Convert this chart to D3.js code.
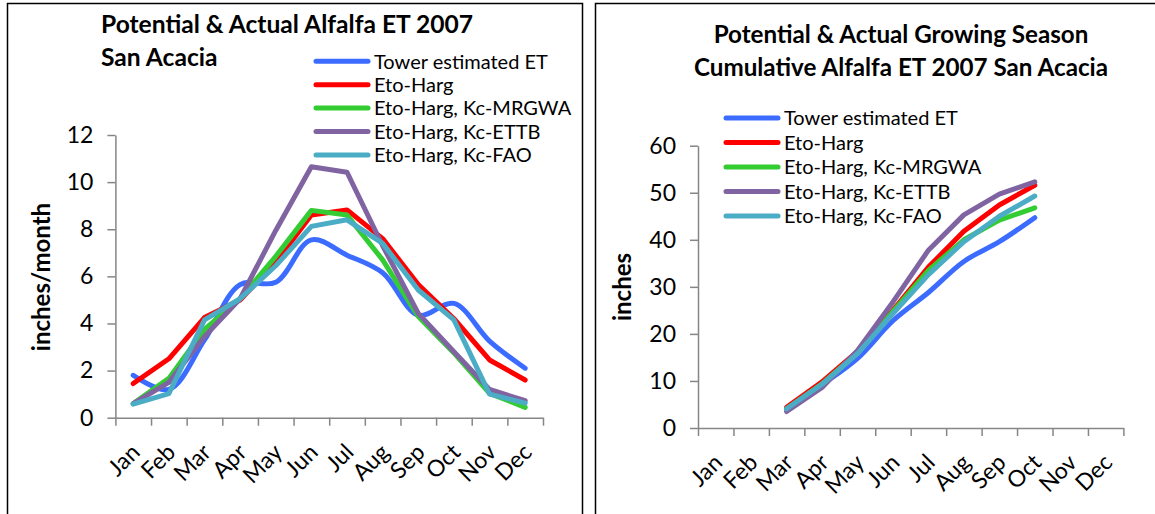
<!DOCTYPE html>
<html><head><meta charset="utf-8">
<script src="https://cdn.jsdelivr.net/npm/d3@7"></script>
<style>
body{margin:0;background:#fff;}
svg{display:block;}
text{font-family:Lato,"Open Sans",sans-serif;fill:#000;}
</style>
</head><body>
<svg id="c" width="1155" height="514"></svg>
<script>
// ---------- data ----------
const months = ["Jan","Feb","Mar","Apr","May","Jun","Jul","Aug","Sep","Oct","Nov","Dec"];
const seriesNames = ["Tower estimated ET","Eto-Harg","Eto-Harg, Kc-MRGWA","Eto-Harg, Kc-ETTB","Eto-Harg, Kc-FAO"];
const seriesColors = ["#3b6cff","#ff0000","#33cc33","#8064a2","#4bacc6"];

// monthly ET (inches/month), Jan..Dec
const monthlyTower = [1.8, 1.2, 3.3, 5.65, 5.75, 7.55, 6.9, 6.15, 4.35, 4.85, 3.25, 2.1];
const monthlyHarg  = [1.45, 2.5, 4.25, 5.0, 6.6, 8.6, 8.82, 7.6, 5.65, 4.2, 2.45, 1.6];
const monthlyMRGWA = [0.6, 1.67, 3.75, 5.05, 6.85, 8.8, 8.6, 6.7, 4.3, 2.75, 1.03, 0.44];
const monthlyETTB  = [0.6, 1.5, 3.45, 5.05, 7.95, 10.65, 10.42, 7.3, 4.43, 2.8, 1.2, 0.72];
const monthlyFAO   = [0.58, 1.02, 4.15, 5.05, 6.45, 8.12, 8.4, 7.4, 5.42, 4.15, 1.0, 0.62];

// cumulative growing season ET (inches), Mar..Oct
const cumMonths = ["Mar","Apr","May","Jun","Jul","Aug","Sep","Oct"];
const cumTower = [4.0, 9.2, 14.8, 22.8, 28.8, 35.4, 39.6, 44.7];
const cumHarg  = [4.4, 9.8, 16.3, 25.0, 34.2, 41.8, 47.4, 51.6];
const cumMRGWA = [4.1, 9.4, 16.0, 24.8, 33.5, 40.0, 44.2, 46.8];
const cumETTB  = [3.5, 8.6, 16.5, 26.8, 37.8, 45.3, 49.7, 52.3];
const cumFAO   = [4.1, 9.3, 15.8, 24.3, 32.6, 39.6, 45.0, 49.3];

const leftTicks = [0,2,4,6,8,10,12];
const rightTicks = [0,10,20,30,40,50,60];

// ---------- drawing ----------
const svg = d3.select("#c");
const AX = "#868686";

// panel frames
svg.append("rect").attr("x",7.5).attr("y",3.5).attr("width",575).attr("height",530)
  .attr("fill","none").attr("stroke","#000").attr("stroke-width",1.5);
svg.append("rect").attr("x",595.5).attr("y",3.5).attr("width",575).attr("height",530)
  .attr("fill","none").attr("stroke","#000").attr("stroke-width",1.5);

function drawChart(cfg){
  const g = svg.append("g");
  const x = d3.scaleBand().domain(months).range([cfg.x0, cfg.x1]);
  const xi = d3.scaleLinear().domain([0, months.length]).range([cfg.x0, cfg.x1]);
  const y = d3.scaleLinear().domain([cfg.ticks[0], cfg.ticks[cfg.ticks.length-1]]).range([cfg.y0, cfg.y1]);

  // y axis
  const ya = g.append("g").attr("transform",`translate(${cfg.x0},0)`)
    .call(d3.axisLeft(y).tickValues(cfg.ticks).tickSize(8).tickPadding(14).tickSizeOuter(0));
  ya.select(".domain").attr("stroke",AX).attr("stroke-width",1.5);
  ya.selectAll(".tick line").attr("stroke",AX).attr("stroke-width",1.5);
  ya.selectAll(".tick text").attr("font-family","Lato").attr("font-size",23).attr("fill","#000");

  // x axis (tick marks between categories)
  const xa = g.append("g").attr("transform",`translate(0,${cfg.y0})`)
    .call(d3.axisBottom(xi).tickValues(d3.range(months.length+1)).tickSize(8).tickSizeOuter(0).tickFormat(""));
  xa.select(".domain").attr("stroke",AX).attr("stroke-width",1.5);
  xa.selectAll(".tick line").attr("stroke",AX).attr("stroke-width",1.5);

  // x labels rotated
  g.selectAll(".xl").data(months).join("text")
    .attr("transform",d=>`translate(${x(d)+x.bandwidth()/2+8},${cfg.y0+36}) rotate(-45)`)
    .attr("text-anchor","end").attr("font-size",23).text(d=>d);

  // lines
  cfg.series.forEach((s,i)=>{
    const pts = s.map((v,k)=>[x(cfg.cats[k])+x.bandwidth()/2, y(v)]);
    const line = d3.line().curve(i===0 ? d3.curveCatmullRom.alpha(0.5) : d3.curveLinear);
    g.append("path").attr("d",line(pts)).attr("fill","none")
      .attr("stroke",seriesColors[i]).attr("stroke-width",5)
      .attr("stroke-linejoin","round").attr("stroke-linecap","round");
  });

  // legend
  seriesNames.forEach((n,i)=>{
    const ly = cfg.legY + i*cfg.legDy;
    g.append("line").attr("x1",cfg.legX).attr("x2",cfg.legX+52).attr("y1",ly).attr("y2",ly)
      .attr("stroke",seriesColors[i]).attr("stroke-width",5).attr("stroke-linecap","round");
    g.append("text").attr("x",cfg.legX+58).attr("y",ly).attr("dy","0.36em")
      .attr("font-size",20).text(n);
  });

  // titles
  cfg.title.forEach((t,i)=>{
    g.append("text").attr("x",cfg.titleX).attr("y",cfg.titleY + i*cfg.titleDy)
      .attr("text-anchor",cfg.titleAnchor).attr("font-weight","bold").attr("font-size",cfg.titleSize).text(t);
  });

  // y title
  g.append("text").attr("transform",`translate(${cfg.ytX},${cfg.ytY}) rotate(-90)`)
    .attr("text-anchor","middle").attr("font-weight","bold").attr("font-size",24).text(cfg.yTitle);
}

drawChart({
  x0:115.4, x1:543, y0:417.7, y1:135, ticks:leftTicks, cats:months,
  series:[monthlyTower, monthlyHarg, monthlyMRGWA, monthlyETTB, monthlyFAO],
  legX:316, legY:61.3, legDy:23.4,
  title:["Potential & Actual Alfalfa ET 2007","San Acacia"], titleX:101, titleY:33, titleDy:33, titleAnchor:"start", titleSize:24.6,
  yTitle:"inches/month", ytX:50, ytY:277
});

drawChart({
  x0:698, x1:1123.4, y0:428, y1:145.7, ticks:rightTicks, cats:cumMonths,
  series:[cumTower, cumHarg, cumMRGWA, cumETTB, cumFAO],
  legX:726, legY:118, legDy:24.5,
  title:["Potential & Actual Growing Season","Cumulative Alfalfa ET 2007 San Acacia"], titleX:901, titleY:43, titleDy:33, titleAnchor:"middle", titleSize:24.2,
  yTitle:"inches", ytX:631, ytY:287
});
</script>
</body></html>
